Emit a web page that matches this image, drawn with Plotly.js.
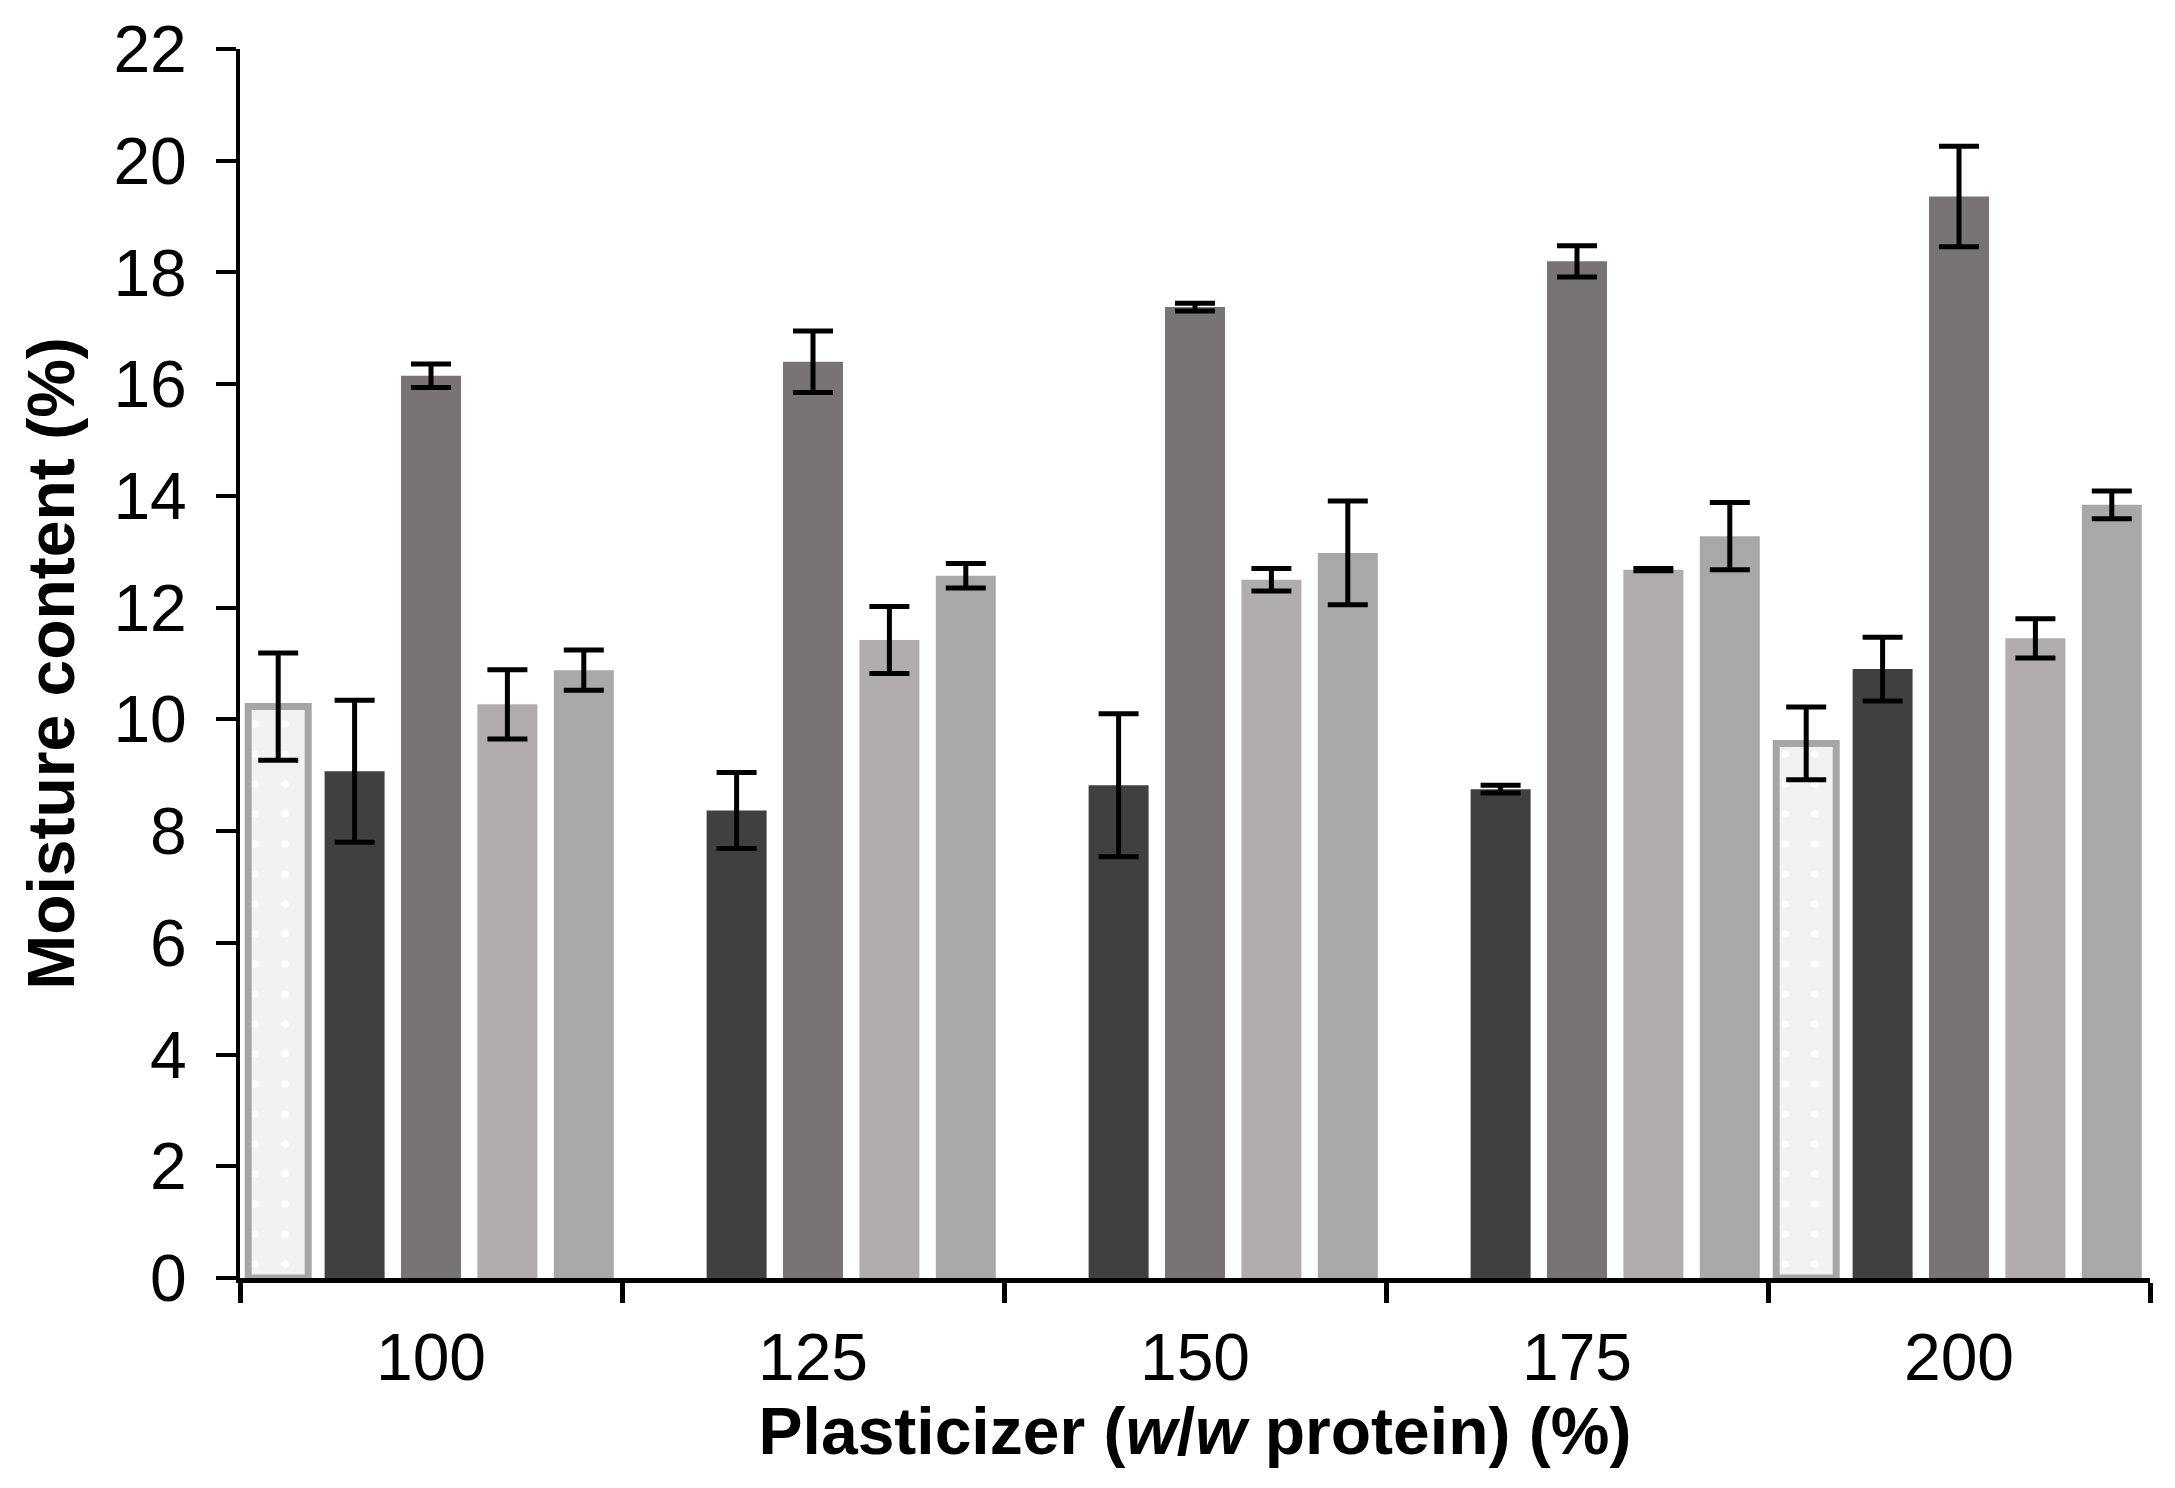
<!DOCTYPE html>
<html>
<head>
<meta charset="utf-8">
<script src="https://cdn.plot.ly/plotly-3.0.1.min.js"></script>
<style>
html,body{margin:0;padding:0;background:#fff;}
#chart{width:2175px;height:1488px;}
</style>
</head>
<body>
<div id="chart"></div>
<script>
// Data
const categories = ['100', '125', '150', '175', '200'];

const s1Values = [10.23, null, null, null, 9.57];
const s1Errors = [0.96, null, null, null, 0.65];

const s2Values = [9.07, 8.37, 8.82, 8.75, 10.90];
const s2Errors = [1.27, 0.68, 1.28, 0.07, 0.57];

const s3Values = [16.15, 16.40, 17.38, 18.20, 19.36];
const s3Errors = [0.21, 0.55, 0.07, 0.28, 0.90];

const s4Values = [10.27, 11.42, 12.50, 12.68, 11.45];
const s4Errors = [0.62, 0.60, 0.20, 0.02, 0.35];

const s5Values = [10.88, 12.57, 12.98, 13.28, 13.84];
const s5Errors = [0.36, 0.22, 0.93, 0.60, 0.25];

const yTickVals = [0, 2, 4, 6, 8, 10, 12, 14, 16, 18, 20, 22];

const FONT = 'Liberation Sans, Arial, sans-serif';

function errBar(arr) {
  return {type: 'data', array: arr, visible: true, color: '#000000', thickness: 5, width: 20};
}

const traces = [
  {
    type: 'bar', name: 'S1', x: categories, y: s1Values, error_y: errBar(s1Errors),
    marker: {
      color: '#f2f2f2',
      line: {color: '#a6a6a6', width: 7},
      pattern: {shape: '.', fgcolor: '#ffffff', bgcolor: '#f2f2f2', size: 30, solidity: 0.05, fillmode: 'replace'}
    }
  },
  {type: 'bar', name: 'S2', x: categories, y: s2Values, error_y: errBar(s2Errors), marker: {color: '#404040'}},
  {type: 'bar', name: 'S3', x: categories, y: s3Values, error_y: errBar(s3Errors), marker: {color: '#797474'}},
  {type: 'bar', name: 'S4', x: categories, y: s4Values, error_y: errBar(s4Errors), marker: {color: '#b0adac'}},
  {type: 'bar', name: 'S5', x: categories, y: s5Values, error_y: errBar(s5Errors), marker: {color: '#a8a8a8'}}
];

const layout = {
  width: 2175,
  height: 1488,
  paper_bgcolor: '#ffffff',
  plot_bgcolor: '#ffffff',
  showlegend: false,
  barmode: 'group',
  bargap: 0,
  bargroupgap: 0.215,
  margin: {l: 240, r: 25, t: 49, b: 210, pad: 0},
  font: {family: FONT, color: '#000000'},
  xaxis: {
    type: 'category',
    tickson: 'boundaries',
    ticks: 'outside',
    ticklen: 20,
    tickwidth: 5,
    tickcolor: '#000000',
    showline: true,
    linecolor: '#000000',
    linewidth: 5,
    showgrid: false,
    zeroline: false,
    tickfont: {family: FONT, size: 66, color: '#000000'},
    ticklabelstandoff: 18,
    title: {
      text: 'Plasticizer (<i>w</i>/<i>w</i> protein) (%)',
      font: {family: FONT, size: 66, color: '#000000', weight: 'bold'},
      standoff: 4
    }
  },
  yaxis: {
    range: [0, 22],
    tickvals: yTickVals,
    ticktext: yTickVals.map(String),
    ticks: 'outside',
    ticklen: 20,
    tickwidth: 4,
    tickcolor: '#000000',
    showline: true,
    linecolor: '#000000',
    linewidth: 4,
    showgrid: false,
    zeroline: false,
    tickfont: {family: FONT, size: 66, color: '#000000'},
    ticklabelstandoff: 16,
    title: {
      text: 'Moisture content (%)',
      font: {family: FONT, size: 66, color: '#000000', weight: 'bold'},
      standoff: 18
    }
  }
};

Plotly.newPlot('chart', traces, layout, {displayModeBar: false, staticPlot: true});
</script>
</body>
</html>
